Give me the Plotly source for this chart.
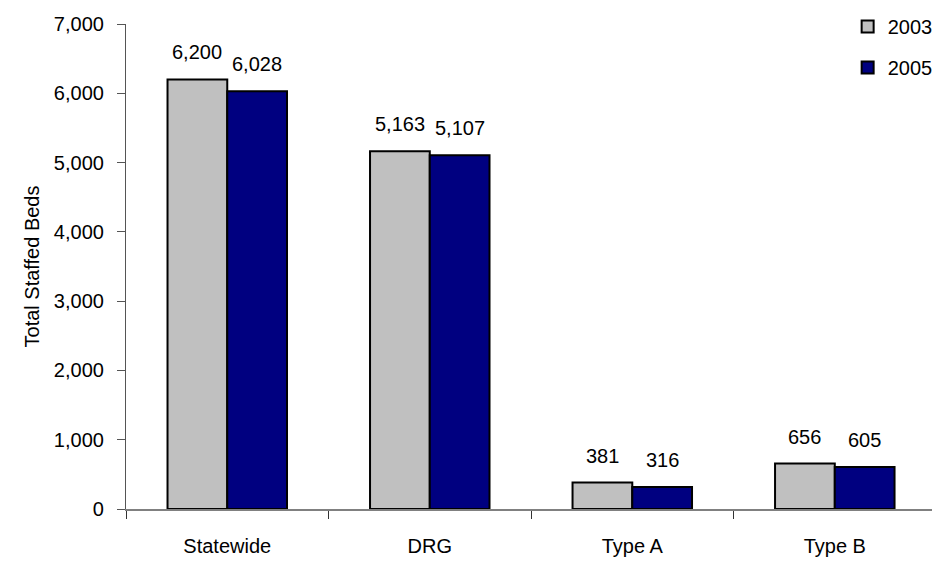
import plotly.graph_objects as go

categories = ["Statewide", "DRG", "Type A", "Type B"]
beds_2003 = [6200, 5163, 381, 656]
beds_2005 = [6028, 5107, 316, 605]
series_names = ["2003", "2005"]
y_ticks = [0, 1000, 2000, 3000, 4000, 5000, 6000, 7000]

FONT = "Liberation Sans, Arial, sans-serif"
fill_colors = ["#C0C0C0", "#000080"]

fig = go.Figure()
for i, (name, vals) in enumerate(zip(series_names, [beds_2003, beds_2005])):
    fig.add_trace(go.Bar(
        x=categories, y=vals, name=name, legendgroup=name,
        marker=dict(color=fill_colors[i], line=dict(color="black", width=2)),
    ))

# value labels sitting above each bar
for i, vals in enumerate([beds_2003, beds_2005]):
    for cat, v in zip(categories, vals):
        fig.add_annotation(
            x=cat, y=v, text=f"{v:,}", showarrow=False,
            xshift=-30 if i == 0 else 30, yanchor="bottom", yshift=14,
            font=dict(family=FONT, size=20, color="black"),
        )

fig.update_layout(
    width=932, height=561,
    margin=dict(l=126, r=0, t=24, b=52, autoexpand=False),
    paper_bgcolor="white", plot_bgcolor="white",
    barmode="group", bargap=0.41, bargroupgap=0,
    font=dict(family=FONT, size=20, color="black"),
    legend=dict(x=1.007, y=1.035, xanchor="right", yanchor="top",
                bgcolor="rgba(0,0,0,0)", tracegroupgap=12,
                font=dict(family=FONT, size=20), itemwidth=30),
    xaxis=dict(range=[-0.5, 3.48], showline=True, linecolor="#808080", linewidth=1.5,
               ticks="outside", tickson="boundaries", ticklen=8, tickcolor="#333",
               ticklabelstandoff=18, showgrid=False,
               tickfont=dict(family=FONT, size=20)),
    yaxis=dict(range=[0, 7000], tickvals=y_ticks, tickformat=",d",
               showline=True, linecolor="#555", linewidth=1.2,
               ticks="outside", ticklen=8, tickcolor="#555",
               ticklabelstandoff=9, showgrid=False, zeroline=False,
               title=dict(text="Total Staffed Beds", standoff=8,
                          font=dict(family=FONT, size=20)),
               tickfont=dict(family=FONT, size=20)),
)

fig.write_html("out.html")
